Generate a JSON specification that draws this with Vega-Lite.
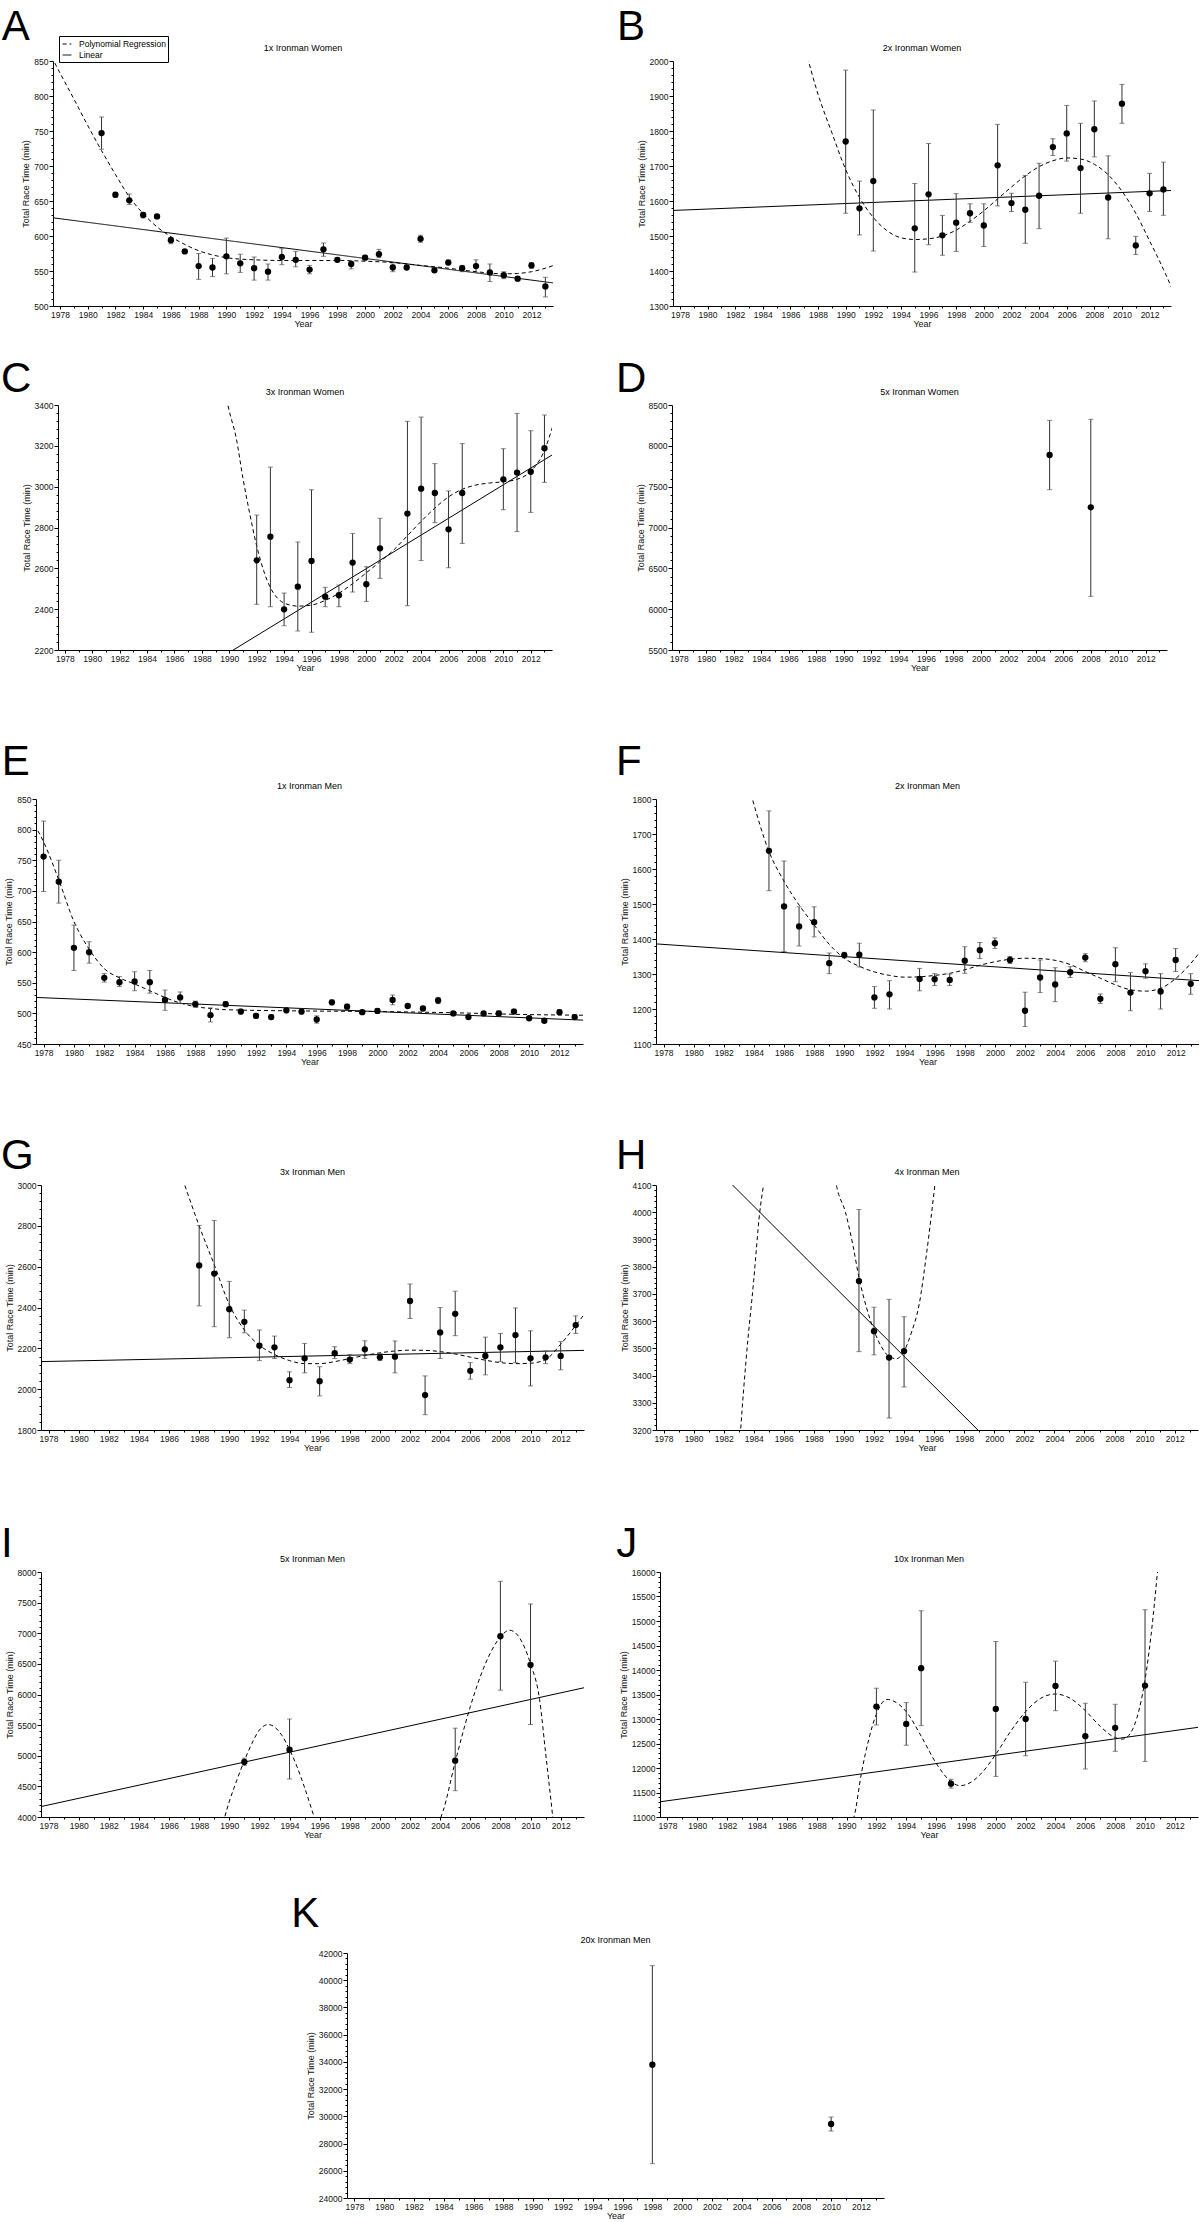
{
"$schema": "https://vega.github.io/schema/vega-lite/v6.json",
"padding": {"left": 0, "top": 6, "right": 0, "bottom": 0},
"config": {
 "view": {"stroke": null},
 "font": "Liberation Sans",
 "title": {"font": "Liberation Sans", "fontWeight": "normal", "color": "#000"},
 "axis": {"labelFont": "Liberation Sans", "labelFontSize": 8.5, "titleFont": "Liberation Sans", "titleFontSize": 9, "titleFontWeight": "normal", "domainColor": "#000", "tickColor": "#000", "labelColor": "#111", "titleColor": "#111", "grid": false, "labelOverlap": false, "labelPadding": 1, "titlePadding": 3, "labelFlush": false},
 "axisX": {"titlePadding": 1}
},
"datasets": {
 "A_pts": [{"year":1981,"v":747,"lo":724,"hi":770},{"year":1982,"v":659,"lo":655,"hi":661},{"year":1983,"v":651,"lo":645,"hi":660},{"year":1984,"v":630,"lo":626,"hi":633},{"year":1985,"v":628,"lo":625,"hi":630},{"year":1986,"v":594,"lo":589,"hi":598},{"year":1987,"v":578,"lo":575,"hi":580},{"year":1988,"v":557,"lo":538,"hi":575},{"year":1989,"v":555,"lo":542,"hi":568},{"year":1990,"v":571,"lo":546,"hi":597},{"year":1991,"v":561,"lo":548,"hi":574},{"year":1992,"v":554,"lo":537,"hi":570},{"year":1993,"v":549,"lo":537,"hi":560},{"year":1994,"v":570,"lo":559,"hi":582},{"year":1995,"v":566,"lo":556,"hi":578},{"year":1996,"v":552,"lo":546,"hi":558},{"year":1997,"v":581,"lo":571,"hi":590},{"year":1998,"v":566,"lo":563,"hi":569},{"year":1999,"v":560,"lo":553,"hi":564},{"year":2000,"v":569,"lo":566,"hi":572},{"year":2001,"v":574,"lo":569,"hi":581},{"year":2002,"v":555,"lo":549,"hi":560},{"year":2003,"v":555,"lo":552,"hi":558},{"year":2004,"v":596,"lo":591,"hi":601},{"year":2005,"v":551,"lo":548,"hi":555},{"year":2006,"v":562,"lo":559,"hi":566},{"year":2007,"v":554,"lo":549,"hi":558},{"year":2008,"v":557,"lo":548,"hi":566},{"year":2009,"v":548,"lo":535,"hi":560},{"year":2010,"v":544,"lo":539,"hi":549},{"year":2011,"v":539,"lo":536,"hi":542},{"year":2012,"v":558,"lo":554,"hi":562},{"year":2013,"v":528,"lo":513,"hi":541}],
 "A_poly": [{"year":1977.4,"v":856},{"year":1978,"v":833},{"year":1979,"v":796},{"year":1980,"v":758},{"year":1981,"v":722},{"year":1982,"v":688},{"year":1983,"v":656},{"year":1984,"v":632},{"year":1985,"v":613},{"year":1986,"v":599},{"year":1987,"v":588},{"year":1988,"v":579},{"year":1989,"v":573},{"year":1990,"v":569},{"year":1991,"v":567},{"year":1992,"v":566},{"year":1994,"v":565},{"year":1996,"v":565},{"year":1998,"v":565},{"year":2000,"v":564},{"year":2002,"v":562},{"year":2004,"v":558},{"year":2006,"v":554},{"year":2008,"v":549},{"year":2010,"v":546},{"year":2011,"v":546.5},{"year":2012,"v":549},{"year":2013,"v":554},{"year":2013.6,"v":558}],
 "A_lin": [{"year":1977.5,"v":626},{"year":2013.55,"v":533}],
 "B_pts": [{"year":1990,"v":1770,"lo":1565,"hi":1974},{"year":1991,"v":1579,"lo":1503,"hi":1657},{"year":1992,"v":1657,"lo":1457,"hi":1860},{"year":1995,"v":1522,"lo":1397,"hi":1650},{"year":1996,"v":1619,"lo":1475,"hi":1764},{"year":1997,"v":1502,"lo":1445,"hi":1559},{"year":1998,"v":1538,"lo":1456,"hi":1621},{"year":1999,"v":1565,"lo":1539,"hi":1592},{"year":2000,"v":1530,"lo":1470,"hi":1592},{"year":2001,"v":1702,"lo":1586,"hi":1819},{"year":2002,"v":1594,"lo":1570,"hi":1622},{"year":2003,"v":1575,"lo":1479,"hi":1673},{"year":2004,"v":1615,"lo":1521,"hi":1708},{"year":2005,"v":1754,"lo":1730,"hi":1778},{"year":2006,"v":1793,"lo":1714,"hi":1873},{"year":2007,"v":1694,"lo":1565,"hi":1822},{"year":2008,"v":1805,"lo":1726,"hi":1886},{"year":2009,"v":1610,"lo":1492,"hi":1729},{"year":2010,"v":1878,"lo":1822,"hi":1933},{"year":2011,"v":1473,"lo":1447,"hi":1499},{"year":2012,"v":1622,"lo":1570,"hi":1679},{"year":2013,"v":1633,"lo":1559,"hi":1711}],
 "B_poly": [{"year":1987.1,"v":2030},{"year":1988,"v":1905},{"year":1989,"v":1795},{"year":1990,"v":1690},{"year":1991,"v":1610},{"year":1992,"v":1553},{"year":1993,"v":1515},{"year":1994,"v":1495},{"year":1995,"v":1490},{"year":1996,"v":1492},{"year":1997,"v":1500},{"year":1998,"v":1517},{"year":1999,"v":1542},{"year":2000,"v":1572},{"year":2001,"v":1606},{"year":2002,"v":1640},{"year":2003,"v":1672},{"year":2004,"v":1698},{"year":2005,"v":1715},{"year":2006,"v":1723},{"year":2007,"v":1720},{"year":2008,"v":1705},{"year":2009,"v":1675},{"year":2010,"v":1628},{"year":2011,"v":1565},{"year":2012,"v":1486},{"year":2013,"v":1405},{"year":2013.6,"v":1352}],
 "B_lin": [{"year":1977.5,"v":1573},{"year":2013.55,"v":1630}],
 "C_pts": [{"year":1992,"v":2639,"lo":2424,"hi":2861},{"year":1993,"v":2755,"lo":2412,"hi":3096},{"year":1994,"v":2399,"lo":2319,"hi":2479},{"year":1995,"v":2510,"lo":2293,"hi":2729},{"year":1996,"v":2636,"lo":2287,"hi":2985},{"year":1997,"v":2461,"lo":2412,"hi":2507},{"year":1998,"v":2468,"lo":2412,"hi":2518},{"year":1999,"v":2628,"lo":2484,"hi":2771},{"year":2000,"v":2522,"lo":2438,"hi":2608},{"year":2001,"v":2698,"lo":2551,"hi":2845},{"year":2003,"v":2868,"lo":2417,"hi":3320},{"year":2004,"v":2990,"lo":2638,"hi":3341},{"year":2005,"v":2969,"lo":2824,"hi":3113},{"year":2006,"v":2791,"lo":2603,"hi":2979},{"year":2007,"v":2969,"lo":2722,"hi":3211},{"year":2010,"v":3036,"lo":2887,"hi":3186},{"year":2011,"v":3069,"lo":2780,"hi":3359},{"year":2012,"v":3073,"lo":2874,"hi":3274},{"year":2013,"v":3188,"lo":3021,"hi":3351}],
 "C_poly": [{"year":1989.8,"v":3430},{"year":1990,"v":3370},{"year":1990.5,"v":3240},{"year":1991,"v":3040},{"year":1991.5,"v":2865},{"year":1992,"v":2710},{"year":1992.5,"v":2590},{"year":1993,"v":2505},{"year":1993.5,"v":2455},{"year":1994,"v":2430},{"year":1995,"v":2415},{"year":1996,"v":2420},{"year":1997,"v":2443},{"year":1998,"v":2478},{"year":1999,"v":2525},{"year":2000,"v":2578},{"year":2001,"v":2633},{"year":2002,"v":2690},{"year":2003,"v":2760},{"year":2004,"v":2830},{"year":2005,"v":2895},{"year":2006,"v":2950},{"year":2007,"v":2987},{"year":2008,"v":3008},{"year":2009,"v":3018},{"year":2010,"v":3024},{"year":2011,"v":3036},{"year":2012,"v":3075},{"year":2013,"v":3178},{"year":2013.6,"v":3295}],
 "C_lin": [{"year":1990.0,"v":2188},{"year":2013.55,"v":3155}],
 "D_pts": [{"year":2005,"v":7888,"lo":7463,"hi":8312},{"year":2008,"v":7247,"lo":6157,"hi":8324}],
 "E_pts": [{"year":1978,"v":756,"lo":699,"hi":814},{"year":1979,"v":715,"lo":680,"hi":750},{"year":1980,"v":607,"lo":570,"hi":644},{"year":1981,"v":600,"lo":582,"hi":617},{"year":1982,"v":558,"lo":551,"hi":565},{"year":1983,"v":551,"lo":544,"hi":560},{"year":1984,"v":552,"lo":537,"hi":568},{"year":1985,"v":551,"lo":533,"hi":570},{"year":1986,"v":522,"lo":505,"hi":538},{"year":1987,"v":526,"lo":516,"hi":535},{"year":1988,"v":515,"lo":510,"hi":520},{"year":1989,"v":497,"lo":486,"hi":509},{"year":1990,"v":515,"lo":511,"hi":519},{"year":1991,"v":503,"lo":499,"hi":507},{"year":1992,"v":496,"lo":492,"hi":500},{"year":1993,"v":494,"lo":490,"hi":498},{"year":1994,"v":505,"lo":501,"hi":509},{"year":1995,"v":503,"lo":499,"hi":507},{"year":1996,"v":490,"lo":484,"hi":496},{"year":1997,"v":518,"lo":514,"hi":522},{"year":1998,"v":511,"lo":507,"hi":515},{"year":1999,"v":502,"lo":499,"hi":505},{"year":2000,"v":504,"lo":500,"hi":508},{"year":2001,"v":522,"lo":514,"hi":530},{"year":2002,"v":512,"lo":509,"hi":515},{"year":2003,"v":508,"lo":505,"hi":511},{"year":2004,"v":521,"lo":516,"hi":526},{"year":2005,"v":500,"lo":497,"hi":503},{"year":2006,"v":494,"lo":491,"hi":497},{"year":2007,"v":500,"lo":497,"hi":503},{"year":2008,"v":500,"lo":496,"hi":504},{"year":2009,"v":503,"lo":499,"hi":507},{"year":2010,"v":492,"lo":489,"hi":495},{"year":2011,"v":488,"lo":485,"hi":491},{"year":2012,"v":502,"lo":498,"hi":506},{"year":2013,"v":494,"lo":490,"hi":498}],
 "E_poly": [{"year":1977.4,"v":808},{"year":1978,"v":780},{"year":1979,"v":718},{"year":1980,"v":650},{"year":1981,"v":605},{"year":1982,"v":573},{"year":1983,"v":558},{"year":1984,"v":548},{"year":1985,"v":537},{"year":1986,"v":526},{"year":1987,"v":517},{"year":1988,"v":511},{"year":1989,"v":508},{"year":1990,"v":506},{"year":1995,"v":504},{"year":2000,"v":503},{"year":2005,"v":501},{"year":2010,"v":498},{"year":2013.6,"v":497}],
 "E_lin": [{"year":1977.5,"v":526},{"year":2013.55,"v":489}],
 "F_pts": [{"year":1985,"v":1652,"lo":1538,"hi":1766},{"year":1986,"v":1493,"lo":1364,"hi":1623},{"year":1987,"v":1436,"lo":1380,"hi":1492},{"year":1988,"v":1448,"lo":1406,"hi":1492},{"year":1989,"v":1331,"lo":1301,"hi":1360},{"year":1990,"v":1354,"lo":1346,"hi":1362},{"year":1991,"v":1355,"lo":1320,"hi":1388},{"year":1992,"v":1233,"lo":1202,"hi":1264},{"year":1993,"v":1242,"lo":1200,"hi":1281},{"year":1995,"v":1286,"lo":1252,"hi":1316},{"year":1996,"v":1285,"lo":1267,"hi":1301},{"year":1997,"v":1283,"lo":1267,"hi":1300},{"year":1998,"v":1338,"lo":1302,"hi":1378},{"year":1999,"v":1368,"lo":1344,"hi":1390},{"year":2000,"v":1388,"lo":1373,"hi":1403},{"year":2001,"v":1340,"lo":1330,"hi":1350},{"year":2002,"v":1195,"lo":1150,"hi":1248},{"year":2003,"v":1290,"lo":1247,"hi":1340},{"year":2004,"v":1270,"lo":1221,"hi":1318},{"year":2005,"v":1305,"lo":1290,"hi":1321},{"year":2006,"v":1347,"lo":1335,"hi":1358},{"year":2007,"v":1229,"lo":1216,"hi":1243},{"year":2008,"v":1328,"lo":1278,"hi":1375},{"year":2009,"v":1247,"lo":1195,"hi":1304},{"year":2010,"v":1308,"lo":1288,"hi":1329},{"year":2011,"v":1250,"lo":1200,"hi":1301},{"year":2012,"v":1340,"lo":1307,"hi":1373},{"year":2013,"v":1272,"lo":1242,"hi":1301}],
 "F_poly": [{"year":1983.8,"v":1815},{"year":1985,"v":1650},{"year":1986,"v":1565},{"year":1987,"v":1497},{"year":1988,"v":1440},{"year":1989,"v":1385},{"year":1990,"v":1345},{"year":1991,"v":1322},{"year":1992,"v":1306},{"year":1993,"v":1296},{"year":1994,"v":1291},{"year":1995,"v":1292},{"year":1996,"v":1296},{"year":1997,"v":1302},{"year":1998,"v":1312},{"year":1999,"v":1325},{"year":2000,"v":1335},{"year":2001,"v":1342},{"year":2002,"v":1345},{"year":2003,"v":1344},{"year":2004,"v":1339},{"year":2005,"v":1327},{"year":2006,"v":1307},{"year":2007,"v":1288},{"year":2008,"v":1269},{"year":2009,"v":1255},{"year":2010,"v":1251},{"year":2011,"v":1259},{"year":2012,"v":1287},{"year":2013,"v":1330},{"year":2013.6,"v":1362}],
 "F_lin": [{"year":1977.5,"v":1386},{"year":2013.55,"v":1281}],
 "G_pts": [{"year":1988,"v":2606,"lo":2408,"hi":2802},{"year":1989,"v":2566,"lo":2306,"hi":2826},{"year":1990,"v":2392,"lo":2252,"hi":2528},{"year":1991,"v":2330,"lo":2276,"hi":2387},{"year":1992,"v":2213,"lo":2140,"hi":2290},{"year":1993,"v":2205,"lo":2150,"hi":2260},{"year":1994,"v":2044,"lo":2008,"hi":2085},{"year":1995,"v":2151,"lo":2080,"hi":2224},{"year":1996,"v":2039,"lo":1967,"hi":2110},{"year":1997,"v":2176,"lo":2150,"hi":2208},{"year":1998,"v":2145,"lo":2125,"hi":2170},{"year":1999,"v":2195,"lo":2150,"hi":2237},{"year":2000,"v":2156,"lo":2140,"hi":2175},{"year":2001,"v":2159,"lo":2080,"hi":2236},{"year":2002,"v":2432,"lo":2346,"hi":2515},{"year":2003,"v":1971,"lo":1875,"hi":2065},{"year":2004,"v":2278,"lo":2150,"hi":2400},{"year":2005,"v":2369,"lo":2262,"hi":2480},{"year":2006,"v":2090,"lo":2049,"hi":2130},{"year":2007,"v":2163,"lo":2070,"hi":2255},{"year":2008,"v":2205,"lo":2135,"hi":2273},{"year":2009,"v":2265,"lo":2130,"hi":2398},{"year":2010,"v":2151,"lo":2016,"hi":2286},{"year":2011,"v":2156,"lo":2125,"hi":2187},{"year":2012,"v":2163,"lo":2095,"hi":2233},{"year":2013,"v":2314,"lo":2273,"hi":2359}],
 "G_poly": [{"year":1986.9,"v":3030},{"year":1987.04,"v":3000},{"year":1988,"v":2800},{"year":1989,"v":2610},{"year":1990,"v":2415},{"year":1991,"v":2290},{"year":1992,"v":2215},{"year":1993,"v":2170},{"year":1994,"v":2140},{"year":1995,"v":2125},{"year":1996,"v":2125},{"year":1997,"v":2135},{"year":1998,"v":2150},{"year":1999,"v":2165},{"year":2000,"v":2178},{"year":2001,"v":2187},{"year":2002,"v":2191},{"year":2003,"v":2190},{"year":2004,"v":2184},{"year":2005,"v":2172},{"year":2006,"v":2157},{"year":2007,"v":2142},{"year":2008,"v":2130},{"year":2009,"v":2125},{"year":2010,"v":2127},{"year":2011,"v":2145},{"year":2012,"v":2220},{"year":2013,"v":2312},{"year":2013.6,"v":2370}],
 "G_lin": [{"year":1977.5,"v":2135},{"year":2013.55,"v":2190}],
 "H_pts": [{"year":1991,"v":3747,"lo":3488,"hi":4010},{"year":1992,"v":3563,"lo":3476,"hi":3651},{"year":1993,"v":3466,"lo":3244,"hi":3680},{"year":1994,"v":3490,"lo":3358,"hi":3616}],
 "H_poly": [{"year":1982.9,"v":3000},{"year":1983.13,"v":3200},{"year":1983.5,"v":3463},{"year":1984,"v":3750},{"year":1984.4,"v":4000},{"year":1984.65,"v":4100},{"year":1985.2,"v":4300},{"year":1987,"v":4500},{"year":1989,"v":4300},{"year":1989.5,"v":4100},{"year":1990.1,"v":4000},{"year":1990.6,"v":3878},{"year":1991,"v":3760},{"year":1991.5,"v":3650},{"year":1992,"v":3565},{"year":1992.5,"v":3505},{"year":1993,"v":3470},{"year":1993.5,"v":3462},{"year":1994,"v":3490},{"year":1994.5,"v":3560},{"year":1995,"v":3660},{"year":1995.5,"v":3850},{"year":1996.05,"v":4100},{"year":1996.3,"v":4220}],
 "H_lin": [{"year":1982.5,"v":4105},{"year":1999.0,"v":3195}],
 "I_pts": [{"year":1991,"v":4900,"lo":4840,"hi":4960},{"year":1994,"v":5100,"lo":4620,"hi":5600},{"year":2005,"v":4920,"lo":4430,"hi":5450},{"year":2008,"v":6951,"lo":6071,"hi":7848},{"year":2010,"v":6484,"lo":5510,"hi":7478}],
 "I_poly": [{"year":1989.6,"v":3900},{"year":1989.7,"v":4000},{"year":1990,"v":4250},{"year":1990.5,"v":4600},{"year":1991,"v":4920},{"year":1991.5,"v":5200},{"year":1992,"v":5420},{"year":1992.6,"v":5510},{"year":1993,"v":5470},{"year":1993.5,"v":5330},{"year":1994,"v":5100},{"year":1994.5,"v":4820},{"year":1995,"v":4480},{"year":1995.7,"v":3950},{"year":1997,"v":3000},{"year":2002,"v":3000},{"year":2003.9,"v":3900},{"year":2004.2,"v":4100},{"year":2005,"v":4900},{"year":2006,"v":5800},{"year":2007,"v":6500},{"year":2008,"v":6940},{"year":2008.6,"v":7050},{"year":2009.2,"v":6950},{"year":2010,"v":6500},{"year":2010.6,"v":5920},{"year":2011,"v":5050},{"year":2011.5,"v":3950}],
 "I_lin": [{"year":1977.5,"v":4170},{"year":2013.55,"v":6110}],
 "J_pts": [{"year":1992,"v":13253,"lo":12878,"hi":13628},{"year":1994,"v":12900,"lo":12465,"hi":13335},{"year":1995,"v":14037,"lo":12865,"hi":15209},{"year":1997,"v":11680,"lo":11590,"hi":11770},{"year":2000,"v":13205,"lo":11828,"hi":14582},{"year":2002,"v":13000,"lo":12250,"hi":13750},{"year":2004,"v":13675,"lo":13170,"hi":14180},{"year":2006,"v":12650,"lo":11979,"hi":13321},{"year":2008,"v":12820,"lo":12340,"hi":13300},{"year":2010,"v":13682,"lo":12134,"hi":15230}],
 "J_poly": [{"year":1990.45,"v":10950},{"year":1990.5,"v":11000},{"year":1991,"v":11900},{"year":1991.5,"v":12600},{"year":1992,"v":13100},{"year":1992.7,"v":13400},{"year":1993.5,"v":13300},{"year":1994,"v":13150},{"year":1995,"v":12650},{"year":1996,"v":12100},{"year":1997,"v":11720},{"year":1997.6,"v":11640},{"year":1998,"v":11660},{"year":1999,"v":11880},{"year":2000,"v":12280},{"year":2001,"v":12750},{"year":2002,"v":13150},{"year":2003,"v":13420},{"year":2004,"v":13510},{"year":2005,"v":13420},{"year":2006,"v":13170},{"year":2007,"v":12850},{"year":2008,"v":12620},{"year":2008.5,"v":12590},{"year":2009,"v":12700},{"year":2009.6,"v":13185},{"year":2010,"v":13800},{"year":2010.4,"v":14700},{"year":2010.85,"v":16050}],
 "J_lin": [{"year":1977.5,"v":11310},{"year":2013.55,"v":12830}],
 "K_pts": [{"year":1998,"v":33796,"lo":26520,"hi":41069},{"year":2010,"v":29435,"lo":28920,"hi":29950}],
 "empty": []
},
"vconcat": [
 {"hconcat": [
  {"width": 1, "height": 1, "data": {"name": "empty"}, "mark": {"type": "point", "opacity": 0}},
  {"hconcat": [
  {"title": {"text": "A", "anchor": "start", "fontSize": 42, "dx": -20, "offset": -5},
   "vconcat": [{
    "title": {"text": "1x Ironman Women", "fontSize": 9, "offset": 4},
    "width": 500, "height": 245,
    "encoding": {
     "x": {"field": "year", "type": "quantitative", "title": "Year", "scale": {"domain": [1977.5, 2013.55], "nice": false, "zero": false}, "axis": {"values": [1978,1979,1980,1981,1982,1983,1984,1985,1986,1987,1988,1989,1990,1991,1992,1993,1994,1995,1996,1997,1998,1999,2000,2001,2002,2003,2004,2005,2006,2007,2008,2009,2010,2011,2012,2013], "format": "d", "labelExpr": "datum.value % 2 === 0 ? datum.label : ''", "tickSize": {"condition": {"test": "datum.value % 2 === 0", "value": 3}, "value": 2}}},
     "y": {"field": "v", "type": "quantitative", "title": "Total Race Time (min)", "scale": {"domain": [500, 850], "nice": false, "zero": false}, "axis": {"values": [500,510,520,530,540,550,560,570,580,590,600,610,620,630,640,650,660,670,680,690,700,710,720,730,740,750,760,770,780,790,800,810,820,830,840,850], "format": "d", "labelExpr": "datum.value % 50 === 0 ? datum.label : ''", "tickSize": {"condition": {"test": "datum.value % 50 === 0", "value": 4}, "value": 2}}}
    },
    "layer": [
     {"data": {"name": "A_lin"}, "mark": {"type": "line", "clip": true, "color": "#000", "strokeWidth": 1}, "encoding": {"strokeDash": {"datum": "Linear", "type": "nominal", "scale": {"domain": ["Polynomial Regression", "Linear"], "range": [[4, 3], [1, 0]]}, "legend": {"orient": "none", "legendX": 59, "legendY": -25, "title": null, "direction": "vertical", "strokeColor": "#000", "fillColor": "#fff", "padding": 2, "labelFontSize": 8.5, "labelFont": "Liberation Sans", "labelColor": "#000", "symbolType": "M-0.8,0L0.8,0", "symbolSize": 121, "symbolStrokeWidth": 1, "symbolStrokeColor": "#000", "symbolFillColor": "transparent", "rowPadding": 0, "labelOffset": 6}}}},
     {"data": {"name": "A_poly"}, "mark": {"type": "line", "clip": true, "color": "#000", "strokeWidth": 1, "interpolate": "monotone"}, "encoding": {"strokeDash": {"datum": "Polynomial Regression", "type": "nominal"}}},
     {"data": {"name": "A_pts"}, "mark": {"type": "rule", "color": "#333"}, "encoding": {"y": {"field": "lo", "type": "quantitative", "title": "Total Race Time (min)"}, "y2": {"field": "hi"}}},
     {"data": {"name": "A_pts"}, "mark": {"type": "tick", "orient": "horizontal", "size": 5, "thickness": 1, "color": "#555"}, "encoding": {"y": {"field": "lo", "type": "quantitative", "title": "Total Race Time (min)"}}},
     {"data": {"name": "A_pts"}, "mark": {"type": "tick", "orient": "horizontal", "size": 5, "thickness": 1, "color": "#555"}, "encoding": {"y": {"field": "hi", "type": "quantitative", "title": "Total Race Time (min)"}}},
     {"data": {"name": "A_pts"}, "mark": {"type": "point", "filled": true, "size": 40, "color": "#000", "opacity": 1}}
    ]
   }]
  },
  {"title": {"text": "B", "anchor": "start", "fontSize": 42, "dx": -20, "offset": -5},
   "vconcat": [{
    "title": {"text": "2x Ironman Women", "fontSize": 9, "offset": 4},
    "width": 498, "height": 245,
    "encoding": {
     "x": {"field": "year", "type": "quantitative", "title": "Year", "scale": {"domain": [1977.5, 2013.55], "nice": false, "zero": false}, "axis": {"values": [1978,1979,1980,1981,1982,1983,1984,1985,1986,1987,1988,1989,1990,1991,1992,1993,1994,1995,1996,1997,1998,1999,2000,2001,2002,2003,2004,2005,2006,2007,2008,2009,2010,2011,2012,2013], "format": "d", "labelExpr": "datum.value % 2 === 0 ? datum.label : ''", "tickSize": {"condition": {"test": "datum.value % 2 === 0", "value": 3}, "value": 2}}},
     "y": {"field": "v", "type": "quantitative", "title": "Total Race Time (min)", "scale": {"domain": [1300, 2000], "nice": false, "zero": false}, "axis": {"values": [1300,1320,1340,1360,1380,1400,1420,1440,1460,1480,1500,1520,1540,1560,1580,1600,1620,1640,1660,1680,1700,1720,1740,1760,1780,1800,1820,1840,1860,1880,1900,1920,1940,1960,1980,2000], "format": "d", "labelExpr": "datum.value % 100 === 0 ? datum.label : ''", "tickSize": {"condition": {"test": "datum.value % 100 === 0", "value": 4}, "value": 2}}}
    },
    "layer": [
     {"data": {"name": "B_lin"}, "mark": {"type": "line", "clip": true, "color": "#000", "strokeWidth": 1}},
     {"data": {"name": "B_poly"}, "mark": {"type": "line", "clip": true, "color": "#000", "strokeWidth": 1, "interpolate": "monotone", "strokeDash": [4, 3]}},
     {"data": {"name": "B_pts"}, "mark": {"type": "rule", "color": "#333"}, "encoding": {"y": {"field": "lo", "type": "quantitative", "title": "Total Race Time (min)"}, "y2": {"field": "hi"}}},
     {"data": {"name": "B_pts"}, "mark": {"type": "tick", "orient": "horizontal", "size": 5, "thickness": 1, "color": "#555"}, "encoding": {"y": {"field": "lo", "type": "quantitative", "title": "Total Race Time (min)"}}},
     {"data": {"name": "B_pts"}, "mark": {"type": "tick", "orient": "horizontal", "size": 5, "thickness": 1, "color": "#555"}, "encoding": {"y": {"field": "hi", "type": "quantitative", "title": "Total Race Time (min)"}}},
     {"data": {"name": "B_pts"}, "mark": {"type": "point", "filled": true, "size": 40, "color": "#000", "opacity": 1}}
    ]
   }]
  }
  ], "spacing": 64}
 ], "spacing": 0},
 {"vconcat": [
  {"hconcat": [
   {"width": 1, "height": 1, "data": {"name": "empty"}, "mark": {"type": "point", "opacity": 0}},
   {"hconcat": [
   {"title": {"text": "C", "anchor": "start", "fontSize": 42, "dx": -21, "offset": -13},
    "vconcat": [{
     "title": {"text": "3x Ironman Women", "fontSize": 9, "offset": 4},
     "width": 494, "height": 245,
     "encoding": {
      "x": {"field": "year", "type": "quantitative", "title": "Year", "scale": {"domain": [1977.5, 2013.55], "nice": false, "zero": false}, "axis": {"values": [1978,1979,1980,1981,1982,1983,1984,1985,1986,1987,1988,1989,1990,1991,1992,1993,1994,1995,1996,1997,1998,1999,2000,2001,2002,2003,2004,2005,2006,2007,2008,2009,2010,2011,2012,2013], "format": "d", "labelExpr": "datum.value % 2 === 0 ? datum.label : ''", "tickSize": {"condition": {"test": "datum.value % 2 === 0", "value": 3}, "value": 2}}},
      "y": {"field": "v", "type": "quantitative", "title": "Total Race Time (min)", "scale": {"domain": [2200, 3400], "nice": false, "zero": false}, "axis": {"values": [2200,2240,2280,2320,2360,2400,2440,2480,2520,2560,2600,2640,2680,2720,2760,2800,2840,2880,2920,2960,3000,3040,3080,3120,3160,3200,3240,3280,3320,3360,3400], "format": "d", "labelExpr": "datum.value % 200 === 0 ? datum.label : ''", "tickSize": {"condition": {"test": "datum.value % 200 === 0", "value": 4}, "value": 2}}}
     },
     "layer": [
      {"data": {"name": "C_lin"}, "mark": {"type": "line", "clip": true, "color": "#000", "strokeWidth": 1}},
      {"data": {"name": "C_poly"}, "mark": {"type": "line", "clip": true, "color": "#000", "strokeWidth": 1, "interpolate": "monotone", "strokeDash": [4, 3]}},
      {"data": {"name": "C_pts"}, "mark": {"type": "rule", "color": "#333"}, "encoding": {"y": {"field": "lo", "type": "quantitative", "title": "Total Race Time (min)"}, "y2": {"field": "hi"}}},
      {"data": {"name": "C_pts"}, "mark": {"type": "tick", "orient": "horizontal", "size": 5, "thickness": 1, "color": "#555"}, "encoding": {"y": {"field": "lo", "type": "quantitative", "title": "Total Race Time (min)"}}},
      {"data": {"name": "C_pts"}, "mark": {"type": "tick", "orient": "horizontal", "size": 5, "thickness": 1, "color": "#555"}, "encoding": {"y": {"field": "hi", "type": "quantitative", "title": "Total Race Time (min)"}}},
      {"data": {"name": "C_pts"}, "mark": {"type": "point", "filled": true, "size": 40, "color": "#000", "opacity": 1}}
     ]
    }]
   },
   {"title": {"text": "D", "anchor": "start", "fontSize": 42, "dx": -20, "offset": -13},
    "vconcat": [{
     "title": {"text": "5x Ironman Women", "fontSize": 9, "offset": 4},
     "width": 495, "height": 245,
     "encoding": {
      "x": {"field": "year", "type": "quantitative", "title": "Year", "scale": {"domain": [1977.5, 2013.55], "nice": false, "zero": false}, "axis": {"values": [1978,1979,1980,1981,1982,1983,1984,1985,1986,1987,1988,1989,1990,1991,1992,1993,1994,1995,1996,1997,1998,1999,2000,2001,2002,2003,2004,2005,2006,2007,2008,2009,2010,2011,2012,2013], "format": "d", "labelExpr": "datum.value % 2 === 0 ? datum.label : ''", "tickSize": {"condition": {"test": "datum.value % 2 === 0", "value": 3}, "value": 2}}},
      "y": {"field": "v", "type": "quantitative", "title": "Total Race Time (min)", "scale": {"domain": [5500, 8500], "nice": false, "zero": false}, "axis": {"values": [5500,5600,5700,5800,5900,6000,6100,6200,6300,6400,6500,6600,6700,6800,6900,7000,7100,7200,7300,7400,7500,7600,7700,7800,7900,8000,8100,8200,8300,8400,8500], "format": "d", "labelExpr": "datum.value % 500 === 0 ? datum.label : ''", "tickSize": {"condition": {"test": "datum.value % 500 === 0", "value": 4}, "value": 2}}}
     },
     "layer": [
      {"data": {"name": "D_pts"}, "mark": {"type": "rule", "color": "#333"}, "encoding": {"y": {"field": "lo", "type": "quantitative", "title": "Total Race Time (min)"}, "y2": {"field": "hi"}}},
      {"data": {"name": "D_pts"}, "mark": {"type": "tick", "orient": "horizontal", "size": 5, "thickness": 1, "color": "#555"}, "encoding": {"y": {"field": "lo", "type": "quantitative", "title": "Total Race Time (min)"}}},
      {"data": {"name": "D_pts"}, "mark": {"type": "tick", "orient": "horizontal", "size": 5, "thickness": 1, "color": "#555"}, "encoding": {"y": {"field": "hi", "type": "quantitative", "title": "Total Race Time (min)"}}},
      {"data": {"name": "D_pts"}, "mark": {"type": "point", "filled": true, "size": 40, "color": "#000", "opacity": 1}}
     ]
    }]
   }
   ], "spacing": 64}
  ], "spacing": 0},
  {"vconcat": [
   {"hconcat": [
    {"width": 1, "height": 1, "data": {"name": "empty"}, "mark": {"type": "point", "opacity": 0}},
    {"hconcat": [
    {"title": {"text": "E", "anchor": "start", "fontSize": 42, "dx": -3, "offset": -2},
     "vconcat": [{
      "title": {"text": "1x Ironman Men", "fontSize": 9, "offset": 4},
      "width": 547, "height": 245,
      "encoding": {
       "x": {"field": "year", "type": "quantitative", "title": "Year", "scale": {"domain": [1977.5, 2013.55], "nice": false, "zero": false}, "axis": {"values": [1978,1979,1980,1981,1982,1983,1984,1985,1986,1987,1988,1989,1990,1991,1992,1993,1994,1995,1996,1997,1998,1999,2000,2001,2002,2003,2004,2005,2006,2007,2008,2009,2010,2011,2012,2013], "format": "d", "labelExpr": "datum.value % 2 === 0 ? datum.label : ''", "tickSize": {"condition": {"test": "datum.value % 2 === 0", "value": 3}, "value": 2}}},
       "y": {"field": "v", "type": "quantitative", "title": "Total Race Time (min)", "scale": {"domain": [450, 850], "nice": false, "zero": false}, "axis": {"values": [450,460,470,480,490,500,510,520,530,540,550,560,570,580,590,600,610,620,630,640,650,660,670,680,690,700,710,720,730,740,750,760,770,780,790,800,810,820,830,840,850], "format": "d", "labelExpr": "datum.value % 50 === 0 ? datum.label : ''", "tickSize": {"condition": {"test": "datum.value % 50 === 0", "value": 4}, "value": 2}}}
      },
      "layer": [
       {"data": {"name": "E_lin"}, "mark": {"type": "line", "clip": true, "color": "#000", "strokeWidth": 1}},
       {"data": {"name": "E_poly"}, "mark": {"type": "line", "clip": true, "color": "#000", "strokeWidth": 1, "interpolate": "monotone", "strokeDash": [4, 3]}},
       {"data": {"name": "E_pts"}, "mark": {"type": "rule", "color": "#333"}, "encoding": {"y": {"field": "lo", "type": "quantitative", "title": "Total Race Time (min)"}, "y2": {"field": "hi"}}},
       {"data": {"name": "E_pts"}, "mark": {"type": "tick", "orient": "horizontal", "size": 5, "thickness": 1, "color": "#555"}, "encoding": {"y": {"field": "lo", "type": "quantitative", "title": "Total Race Time (min)"}}},
       {"data": {"name": "E_pts"}, "mark": {"type": "tick", "orient": "horizontal", "size": 5, "thickness": 1, "color": "#555"}, "encoding": {"y": {"field": "hi", "type": "quantitative", "title": "Total Race Time (min)"}}},
       {"data": {"name": "E_pts"}, "mark": {"type": "point", "filled": true, "size": 40, "color": "#000", "opacity": 1}}
      ]
     }]
    },
    {"title": {"text": "F", "anchor": "start", "fontSize": 42, "dx": -4, "offset": -2},
     "vconcat": [{
      "title": {"text": "2x Ironman Men", "fontSize": 9, "offset": 4},
      "width": 543, "height": 245,
      "encoding": {
       "x": {"field": "year", "type": "quantitative", "title": "Year", "scale": {"domain": [1977.5, 2013.55], "nice": false, "zero": false}, "axis": {"values": [1978,1979,1980,1981,1982,1983,1984,1985,1986,1987,1988,1989,1990,1991,1992,1993,1994,1995,1996,1997,1998,1999,2000,2001,2002,2003,2004,2005,2006,2007,2008,2009,2010,2011,2012,2013], "format": "d", "labelExpr": "datum.value % 2 === 0 ? datum.label : ''", "tickSize": {"condition": {"test": "datum.value % 2 === 0", "value": 3}, "value": 2}}},
       "y": {"field": "v", "type": "quantitative", "title": "Total Race Time (min)", "scale": {"domain": [1100, 1800], "nice": false, "zero": false}, "axis": {"values": [1100,1120,1140,1160,1180,1200,1220,1240,1260,1280,1300,1320,1340,1360,1380,1400,1420,1440,1460,1480,1500,1520,1540,1560,1580,1600,1620,1640,1660,1680,1700,1720,1740,1760,1780,1800], "format": "d", "labelExpr": "datum.value % 100 === 0 ? datum.label : ''", "tickSize": {"condition": {"test": "datum.value % 100 === 0", "value": 4}, "value": 2}}}
      },
      "layer": [
       {"data": {"name": "F_lin"}, "mark": {"type": "line", "clip": true, "color": "#000", "strokeWidth": 1}},
       {"data": {"name": "F_poly"}, "mark": {"type": "line", "clip": true, "color": "#000", "strokeWidth": 1, "interpolate": "monotone", "strokeDash": [4, 3]}},
       {"data": {"name": "F_pts"}, "mark": {"type": "rule", "color": "#333"}, "encoding": {"y": {"field": "lo", "type": "quantitative", "title": "Total Race Time (min)"}, "y2": {"field": "hi"}}},
       {"data": {"name": "F_pts"}, "mark": {"type": "tick", "orient": "horizontal", "size": 5, "thickness": 1, "color": "#555"}, "encoding": {"y": {"field": "lo", "type": "quantitative", "title": "Total Race Time (min)"}}},
       {"data": {"name": "F_pts"}, "mark": {"type": "tick", "orient": "horizontal", "size": 5, "thickness": 1, "color": "#555"}, "encoding": {"y": {"field": "hi", "type": "quantitative", "title": "Total Race Time (min)"}}},
       {"data": {"name": "F_pts"}, "mark": {"type": "point", "filled": true, "size": 40, "color": "#000", "opacity": 1}}
      ]
     }]
    }
    ], "spacing": 33}
   ], "spacing": 0},
   {"vconcat": [
    {"hconcat": [
     {"width": 1, "height": 1, "data": {"name": "empty"}, "mark": {"type": "point", "opacity": 0}},
     {"hconcat": [
     {"title": {"text": "G", "anchor": "start", "fontSize": 42, "dx": -4, "offset": -10},
      "vconcat": [{
       "title": {"text": "3x Ironman Men", "fontSize": 9, "offset": 4},
       "width": 543, "height": 245,
       "encoding": {
        "x": {"field": "year", "type": "quantitative", "title": "Year", "scale": {"domain": [1977.5, 2013.55], "nice": false, "zero": false}, "axis": {"values": [1978,1979,1980,1981,1982,1983,1984,1985,1986,1987,1988,1989,1990,1991,1992,1993,1994,1995,1996,1997,1998,1999,2000,2001,2002,2003,2004,2005,2006,2007,2008,2009,2010,2011,2012,2013], "format": "d", "labelExpr": "datum.value % 2 === 0 ? datum.label : ''", "tickSize": {"condition": {"test": "datum.value % 2 === 0", "value": 3}, "value": 2}}},
        "y": {"field": "v", "type": "quantitative", "title": "Total Race Time (min)", "scale": {"domain": [1800, 3000], "nice": false, "zero": false}, "axis": {"values": [1800,1840,1880,1920,1960,2000,2040,2080,2120,2160,2200,2240,2280,2320,2360,2400,2440,2480,2520,2560,2600,2640,2680,2720,2760,2800,2840,2880,2920,2960,3000], "format": "d", "labelExpr": "datum.value % 200 === 0 ? datum.label : ''", "tickSize": {"condition": {"test": "datum.value % 200 === 0", "value": 4}, "value": 2}}}
       },
       "layer": [
        {"data": {"name": "G_lin"}, "mark": {"type": "line", "clip": true, "color": "#000", "strokeWidth": 1}},
        {"data": {"name": "G_poly"}, "mark": {"type": "line", "clip": true, "color": "#000", "strokeWidth": 1, "interpolate": "monotone", "strokeDash": [4, 3]}},
        {"data": {"name": "G_pts"}, "mark": {"type": "rule", "color": "#333"}, "encoding": {"y": {"field": "lo", "type": "quantitative", "title": "Total Race Time (min)"}, "y2": {"field": "hi"}}},
        {"data": {"name": "G_pts"}, "mark": {"type": "tick", "orient": "horizontal", "size": 5, "thickness": 1, "color": "#555"}, "encoding": {"y": {"field": "lo", "type": "quantitative", "title": "Total Race Time (min)"}}},
        {"data": {"name": "G_pts"}, "mark": {"type": "tick", "orient": "horizontal", "size": 5, "thickness": 1, "color": "#555"}, "encoding": {"y": {"field": "hi", "type": "quantitative", "title": "Total Race Time (min)"}}},
        {"data": {"name": "G_pts"}, "mark": {"type": "point", "filled": true, "size": 40, "color": "#000", "opacity": 1}}
       ]
      }]
     },
     {"title": {"text": "H", "anchor": "start", "fontSize": 42, "dx": -4, "offset": -10},
      "vconcat": [{
       "title": {"text": "4x Ironman Men", "fontSize": 9, "offset": 4},
       "width": 542, "height": 245,
       "encoding": {
        "x": {"field": "year", "type": "quantitative", "title": "Year", "scale": {"domain": [1977.5, 2013.55], "nice": false, "zero": false}, "axis": {"values": [1978,1979,1980,1981,1982,1983,1984,1985,1986,1987,1988,1989,1990,1991,1992,1993,1994,1995,1996,1997,1998,1999,2000,2001,2002,2003,2004,2005,2006,2007,2008,2009,2010,2011,2012,2013], "format": "d", "labelExpr": "datum.value % 2 === 0 ? datum.label : ''", "tickSize": {"condition": {"test": "datum.value % 2 === 0", "value": 3}, "value": 2}}},
        "y": {"field": "v", "type": "quantitative", "title": "Total Race Time (min)", "scale": {"domain": [3200, 4100], "nice": false, "zero": false}, "axis": {"values": [3200,3220,3240,3260,3280,3300,3320,3340,3360,3380,3400,3420,3440,3460,3480,3500,3520,3540,3560,3580,3600,3620,3640,3660,3680,3700,3720,3740,3760,3780,3800,3820,3840,3860,3880,3900,3920,3940,3960,3980,4000,4020,4040,4060,4080,4100], "format": "d", "labelExpr": "datum.value % 100 === 0 ? datum.label : ''", "tickSize": {"condition": {"test": "datum.value % 100 === 0", "value": 4}, "value": 2}}}
       },
       "layer": [
        {"data": {"name": "H_lin"}, "mark": {"type": "line", "clip": true, "color": "#000", "strokeWidth": 1}},
        {"data": {"name": "H_poly"}, "mark": {"type": "line", "clip": true, "color": "#000", "strokeWidth": 1, "interpolate": "monotone", "strokeDash": [4, 3]}},
        {"data": {"name": "H_pts"}, "mark": {"type": "rule", "color": "#333"}, "encoding": {"y": {"field": "lo", "type": "quantitative", "title": "Total Race Time (min)"}, "y2": {"field": "hi"}}},
        {"data": {"name": "H_pts"}, "mark": {"type": "tick", "orient": "horizontal", "size": 5, "thickness": 1, "color": "#555"}, "encoding": {"y": {"field": "lo", "type": "quantitative", "title": "Total Race Time (min)"}}},
        {"data": {"name": "H_pts"}, "mark": {"type": "tick", "orient": "horizontal", "size": 5, "thickness": 1, "color": "#555"}, "encoding": {"y": {"field": "hi", "type": "quantitative", "title": "Total Race Time (min)"}}},
        {"data": {"name": "H_pts"}, "mark": {"type": "point", "filled": true, "size": 40, "color": "#000", "opacity": 1}}
       ]
      }]
     }
     ], "spacing": 32}
    ], "spacing": 0},
    {"vconcat": [
     {"hconcat": [
      {"width": 1, "height": 1, "data": {"name": "empty"}, "mark": {"type": "point", "opacity": 0}},
      {"hconcat": [
      {"title": {"text": "I", "anchor": "start", "fontSize": 42, "dx": -4, "offset": -11},
       "vconcat": [{
        "title": {"text": "5x Ironman Men", "fontSize": 9, "offset": 4},
        "width": 543, "height": 245,
        "encoding": {
         "x": {"field": "year", "type": "quantitative", "title": "Year", "scale": {"domain": [1977.5, 2013.55], "nice": false, "zero": false}, "axis": {"values": [1978,1979,1980,1981,1982,1983,1984,1985,1986,1987,1988,1989,1990,1991,1992,1993,1994,1995,1996,1997,1998,1999,2000,2001,2002,2003,2004,2005,2006,2007,2008,2009,2010,2011,2012,2013], "format": "d", "labelExpr": "datum.value % 2 === 0 ? datum.label : ''", "tickSize": {"condition": {"test": "datum.value % 2 === 0", "value": 3}, "value": 2}}},
         "y": {"field": "v", "type": "quantitative", "title": "Total Race Time (min)", "scale": {"domain": [4000, 8000], "nice": false, "zero": false}, "axis": {"values": [4000,4100,4200,4300,4400,4500,4600,4700,4800,4900,5000,5100,5200,5300,5400,5500,5600,5700,5800,5900,6000,6100,6200,6300,6400,6500,6600,6700,6800,6900,7000,7100,7200,7300,7400,7500,7600,7700,7800,7900,8000], "format": "d", "labelExpr": "datum.value % 500 === 0 ? datum.label : ''", "tickSize": {"condition": {"test": "datum.value % 500 === 0", "value": 4}, "value": 2}}}
        },
        "layer": [
         {"data": {"name": "I_lin"}, "mark": {"type": "line", "clip": true, "color": "#000", "strokeWidth": 1}},
         {"data": {"name": "I_poly"}, "mark": {"type": "line", "clip": true, "color": "#000", "strokeWidth": 1, "interpolate": "monotone", "strokeDash": [4, 3]}},
         {"data": {"name": "I_pts"}, "mark": {"type": "rule", "color": "#333"}, "encoding": {"y": {"field": "lo", "type": "quantitative", "title": "Total Race Time (min)"}, "y2": {"field": "hi"}}},
         {"data": {"name": "I_pts"}, "mark": {"type": "tick", "orient": "horizontal", "size": 5, "thickness": 1, "color": "#555"}, "encoding": {"y": {"field": "lo", "type": "quantitative", "title": "Total Race Time (min)"}}},
         {"data": {"name": "I_pts"}, "mark": {"type": "tick", "orient": "horizontal", "size": 5, "thickness": 1, "color": "#555"}, "encoding": {"y": {"field": "hi", "type": "quantitative", "title": "Total Race Time (min)"}}},
         {"data": {"name": "I_pts"}, "mark": {"type": "point", "filled": true, "size": 40, "color": "#000", "opacity": 1}}
        ]
       }]
      },
      {"title": {"text": "J", "anchor": "start", "fontSize": 42, "dx": -3, "offset": -11},
       "vconcat": [{
        "title": {"text": "10x Ironman Men", "fontSize": 9, "offset": 4},
        "width": 538, "height": 245,
        "encoding": {
         "x": {"field": "year", "type": "quantitative", "title": "Year", "scale": {"domain": [1977.5, 2013.55], "nice": false, "zero": false}, "axis": {"values": [1978,1979,1980,1981,1982,1983,1984,1985,1986,1987,1988,1989,1990,1991,1992,1993,1994,1995,1996,1997,1998,1999,2000,2001,2002,2003,2004,2005,2006,2007,2008,2009,2010,2011,2012,2013], "format": "d", "labelExpr": "datum.value % 2 === 0 ? datum.label : ''", "tickSize": {"condition": {"test": "datum.value % 2 === 0", "value": 3}, "value": 2}}},
         "y": {"field": "v", "type": "quantitative", "title": "Total Race Time (min)", "scale": {"domain": [11000, 16000], "nice": false, "zero": false}, "axis": {"values": [11000,11100,11200,11300,11400,11500,11600,11700,11800,11900,12000,12100,12200,12300,12400,12500,12600,12700,12800,12900,13000,13100,13200,13300,13400,13500,13600,13700,13800,13900,14000,14100,14200,14300,14400,14500,14600,14700,14800,14900,15000,15100,15200,15300,15400,15500,15600,15700,15800,15900,16000], "format": "d", "labelExpr": "datum.value % 500 === 0 ? datum.label : ''", "tickSize": {"condition": {"test": "datum.value % 500 === 0", "value": 4}, "value": 2}}}
        },
        "layer": [
         {"data": {"name": "J_lin"}, "mark": {"type": "line", "clip": true, "color": "#000", "strokeWidth": 1}},
         {"data": {"name": "J_poly"}, "mark": {"type": "line", "clip": true, "color": "#000", "strokeWidth": 1, "interpolate": "monotone", "strokeDash": [4, 3]}},
         {"data": {"name": "J_pts"}, "mark": {"type": "rule", "color": "#333"}, "encoding": {"y": {"field": "lo", "type": "quantitative", "title": "Total Race Time (min)"}, "y2": {"field": "hi"}}},
         {"data": {"name": "J_pts"}, "mark": {"type": "tick", "orient": "horizontal", "size": 5, "thickness": 1, "color": "#555"}, "encoding": {"y": {"field": "lo", "type": "quantitative", "title": "Total Race Time (min)"}}},
         {"data": {"name": "J_pts"}, "mark": {"type": "tick", "orient": "horizontal", "size": 5, "thickness": 1, "color": "#555"}, "encoding": {"y": {"field": "hi", "type": "quantitative", "title": "Total Race Time (min)"}}},
         {"data": {"name": "J_pts"}, "mark": {"type": "point", "filled": true, "size": 40, "color": "#000", "opacity": 1}}
        ]
       }]
      }
      ], "spacing": 32}
     ], "spacing": 0},
     {"hconcat": [
      {"width": 291, "height": 1, "data": {"name": "empty"}, "mark": {"type": "point", "opacity": 0}},
      {"title": {"text": "K", "anchor": "start", "fontSize": 42, "dx": -15, "offset": 0},
       "vconcat": [{
        "title": {"text": "20x Ironman Men", "fontSize": 9, "offset": 4},
        "width": 537, "height": 245,
        "encoding": {
         "x": {"field": "year", "type": "quantitative", "title": "Year", "scale": {"domain": [1977.5, 2013.55], "nice": false, "zero": false}, "axis": {"values": [1978,1979,1980,1981,1982,1983,1984,1985,1986,1987,1988,1989,1990,1991,1992,1993,1994,1995,1996,1997,1998,1999,2000,2001,2002,2003,2004,2005,2006,2007,2008,2009,2010,2011,2012,2013], "format": "d", "labelExpr": "datum.value % 2 === 0 ? datum.label : ''", "tickSize": {"condition": {"test": "datum.value % 2 === 0", "value": 3}, "value": 2}}},
         "y": {"field": "v", "type": "quantitative", "title": "Total Race Time (min)", "scale": {"domain": [24000, 42000], "nice": false, "zero": false}, "axis": {"values": [24000,24400,24800,25200,25600,26000,26400,26800,27200,27600,28000,28400,28800,29200,29600,30000,30400,30800,31200,31600,32000,32400,32800,33200,33600,34000,34400,34800,35200,35600,36000,36400,36800,37200,37600,38000,38400,38800,39200,39600,40000,40400,40800,41200,41600,42000], "format": "d", "labelExpr": "datum.value % 2000 === 0 ? datum.label : ''", "tickSize": {"condition": {"test": "datum.value % 2000 === 0", "value": 4}, "value": 2}}}
        },
        "layer": [
         {"data": {"name": "K_pts"}, "mark": {"type": "rule", "color": "#333"}, "encoding": {"y": {"field": "lo", "type": "quantitative", "title": "Total Race Time (min)"}, "y2": {"field": "hi"}}},
         {"data": {"name": "K_pts"}, "mark": {"type": "tick", "orient": "horizontal", "size": 5, "thickness": 1, "color": "#555"}, "encoding": {"y": {"field": "lo", "type": "quantitative", "title": "Total Race Time (min)"}}},
         {"data": {"name": "K_pts"}, "mark": {"type": "tick", "orient": "horizontal", "size": 5, "thickness": 1, "color": "#555"}, "encoding": {"y": {"field": "hi", "type": "quantitative", "title": "Total Race Time (min)"}}},
         {"data": {"name": "K_pts"}, "mark": {"type": "point", "filled": true, "size": 40, "color": "#000", "opacity": 1}}
        ]
       }]
      }
     ], "spacing": 0}
    ], "spacing": 53}
   ], "spacing": 70}
  ], "spacing": 68}
 ], "spacing": 68}
], "spacing": 29}
